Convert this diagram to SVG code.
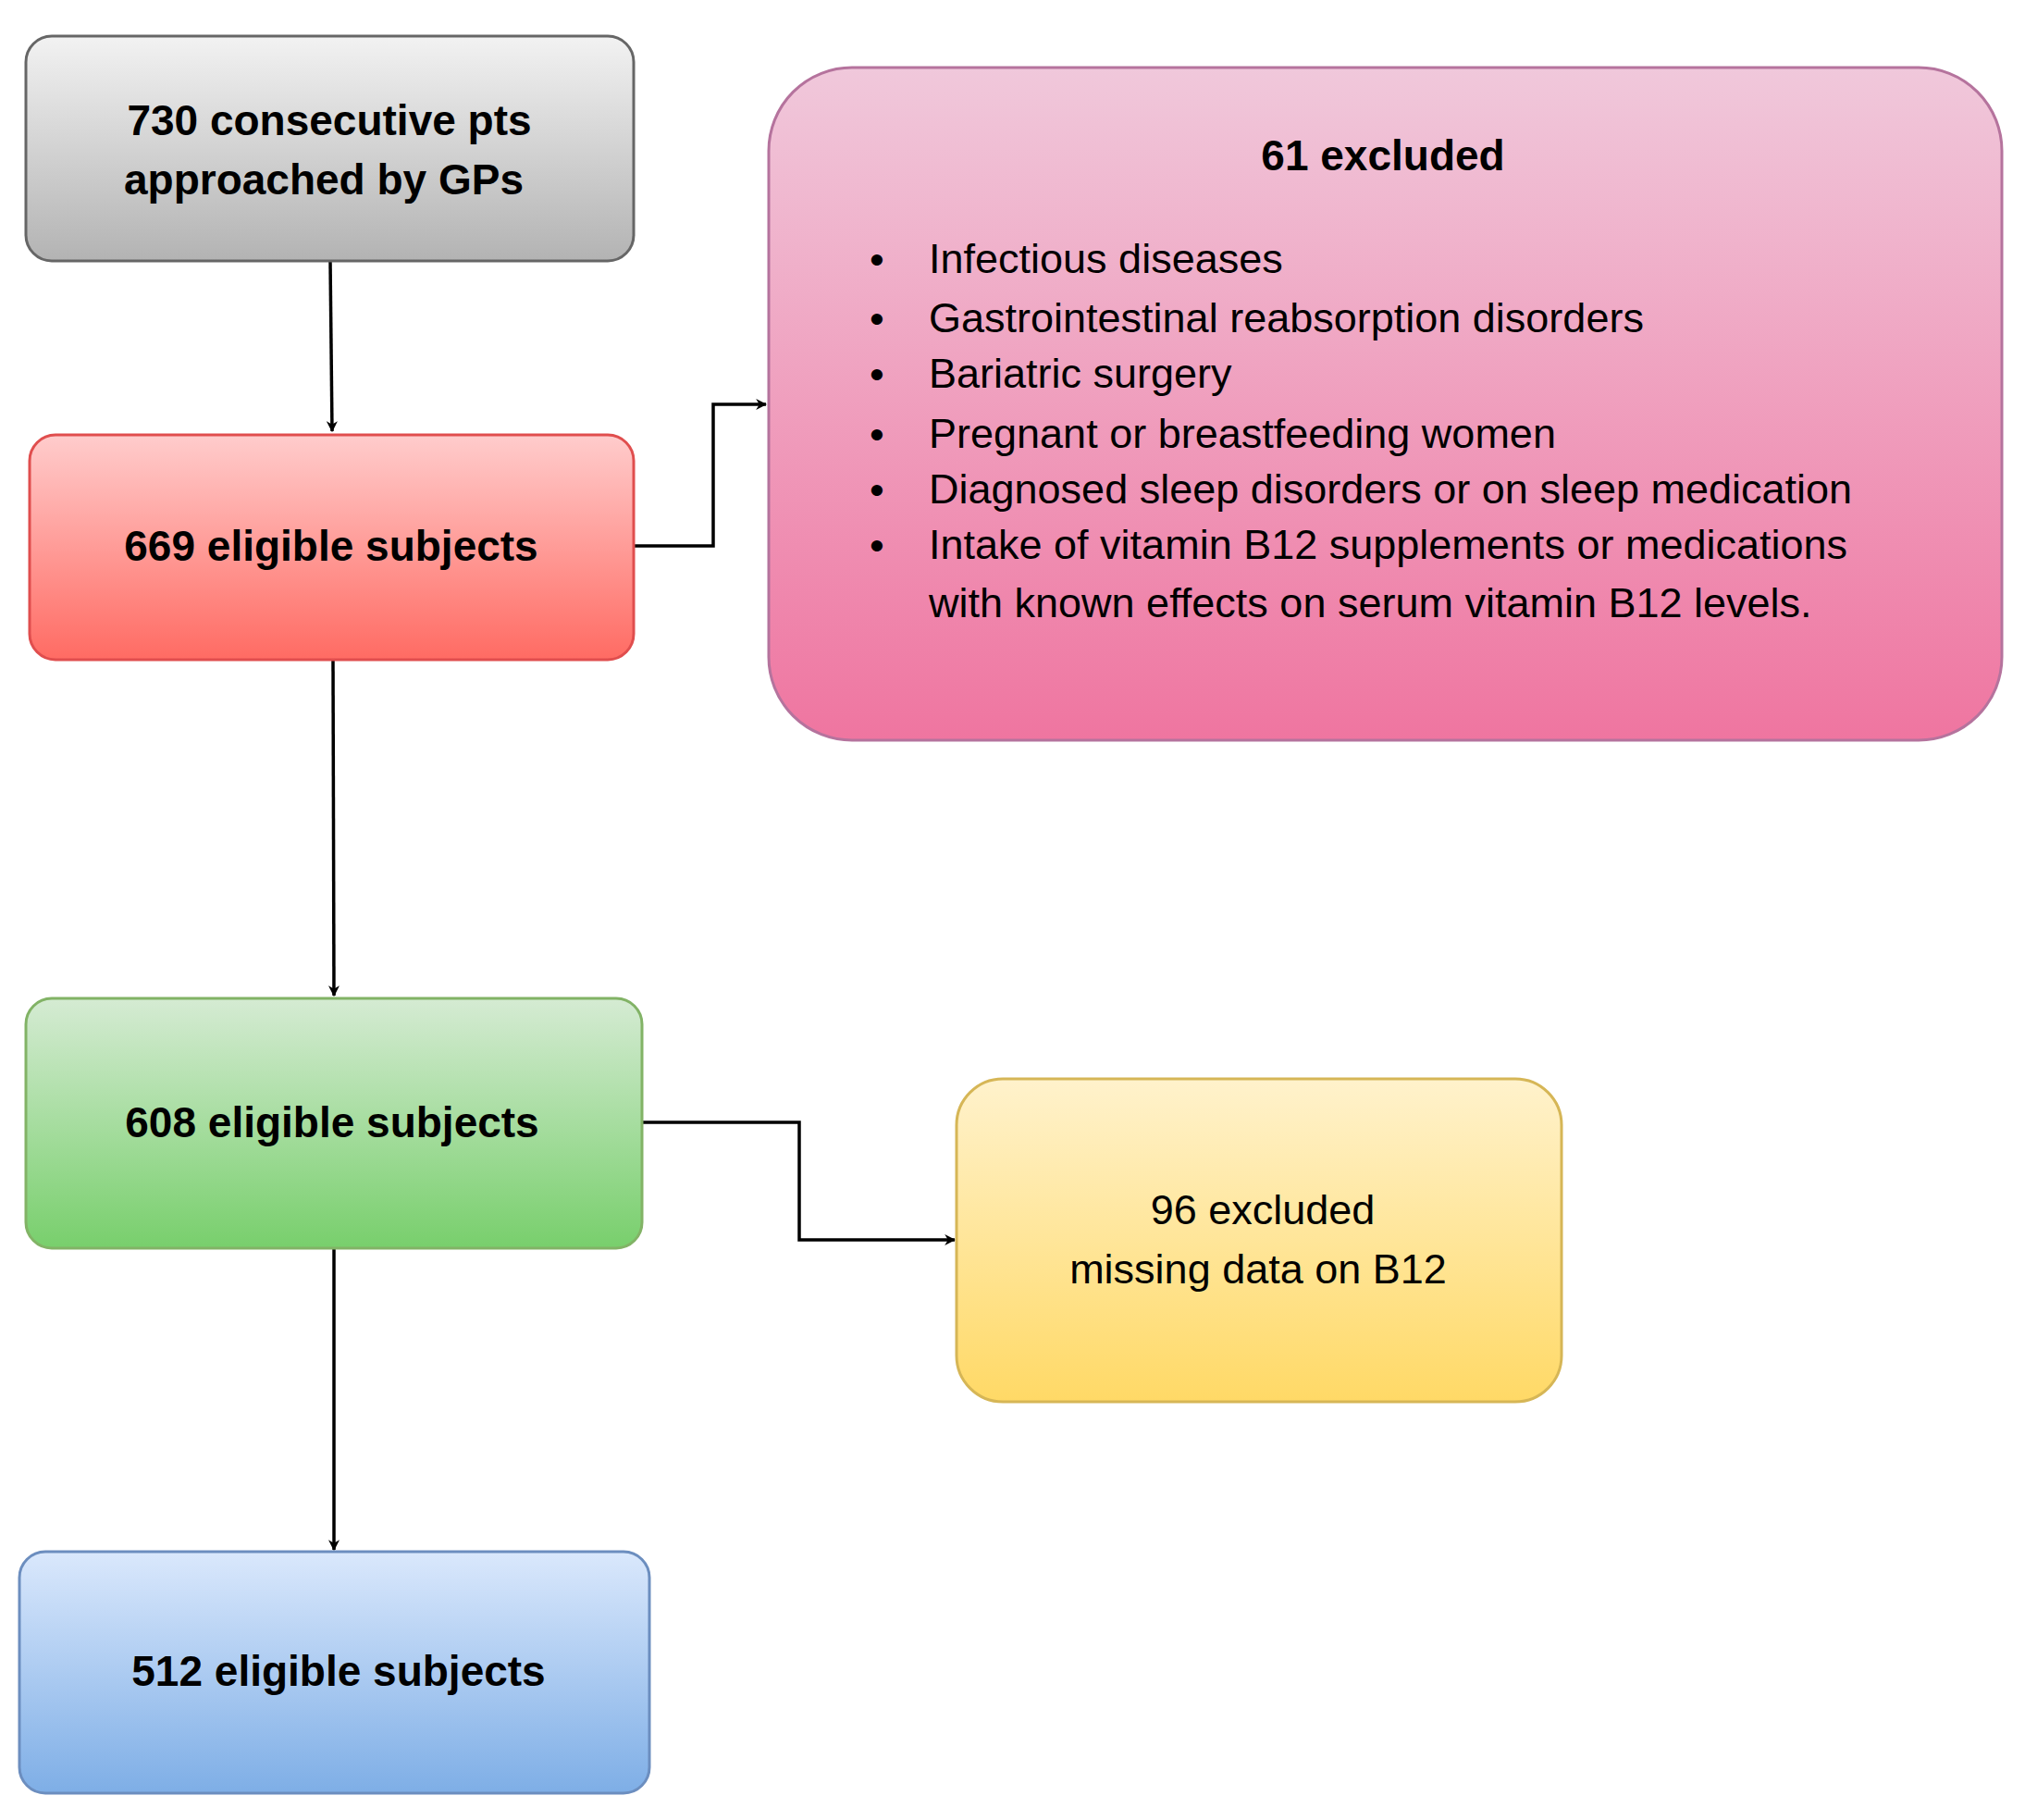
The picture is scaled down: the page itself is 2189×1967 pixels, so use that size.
<svg xmlns="http://www.w3.org/2000/svg" width="2189" height="1967" viewBox="0 0 2189 1967">
<style>
.b{font-family:"Liberation Sans",Arial,sans-serif;font-weight:bold;font-size:46px;fill:#000;text-anchor:middle}
.r{font-family:"Liberation Sans",Arial,sans-serif;font-size:45px;fill:#000}
.c{text-anchor:middle}
.e{fill:none;stroke:#000;stroke-width:3.5}
</style>
<defs>
<linearGradient id="g1" x1="0" y1="0" x2="0" y2="1"><stop offset="0" stop-color="#f2f2f2"/><stop offset="1" stop-color="#b3b3b3"/></linearGradient>
<linearGradient id="g2" x1="0" y1="0" x2="0" y2="1"><stop offset="0" stop-color="#ffcccc"/><stop offset="1" stop-color="#ff6b63"/></linearGradient>
<linearGradient id="g3" x1="0" y1="0" x2="0" y2="1"><stop offset="0" stop-color="#f0c8db"/><stop offset="1" stop-color="#ef75a0"/></linearGradient>
<linearGradient id="g4" x1="0" y1="0" x2="0" y2="1"><stop offset="0" stop-color="#d5ebd3"/><stop offset="1" stop-color="#78cf6c"/></linearGradient>
<linearGradient id="g5" x1="0" y1="0" x2="0" y2="1"><stop offset="0" stop-color="#fff2cc"/><stop offset="1" stop-color="#ffd966"/></linearGradient>
<linearGradient id="g6" x1="0" y1="0" x2="0" y2="1"><stop offset="0" stop-color="#dae8fc"/><stop offset="1" stop-color="#7eaee6"/></linearGradient>
<marker id="a" viewBox="0 0 20 20" refX="18" refY="10" markerWidth="12" markerHeight="12" markerUnits="userSpaceOnUse" orient="auto"><path d="M0,0 L20,10 L0,20 L6,10 Z" fill="#000"/></marker>
</defs>
<g id="connectors">
<path class="e" d="M357,282 L359,466" marker-end="url(#a)" style="marker-end:url(#a)"/>
<path class="e" d="M685,590 L771,590 L771,437 L828,437" style="marker-end:url(#a)"/>
<path class="e" d="M360,713 L361,1076" style="marker-end:url(#a)"/>
<path class="e" d="M694,1213 L864,1213 L864,1340 L1032,1340" style="marker-end:url(#a)"/>
<path class="e" d="M361,1349 L361,1675" style="marker-end:url(#a)"/>
</g>
<g id="n1"><rect x="28" y="39" width="657" height="243" rx="28" fill="url(#g1)" stroke="#666" stroke-width="3"/>
<text class="b" x="356" y="146">730 consecutive pts</text><text class="b" x="350" y="210">approached by GPs</text></g>
<g id="n2"><rect x="32" y="470" width="653" height="243" rx="28" fill="url(#g2)" stroke="#e04e4e" stroke-width="3"/>
<text class="b" x="358" y="606">669 eligible subjects</text></g>
<g id="n3"><rect x="831" y="73" width="1333" height="727" rx="90" fill="url(#g3)" stroke="#b5739d" stroke-width="3"/>
<text class="b" x="1495" y="184">61 excluded</text>
<g class="r">
<text x="940" y="296">•</text><text x="1004" y="295">Infectious diseases</text>
<text x="940" y="360">•</text><text x="1004" y="359">Gastrointestinal reabsorption disorders</text>
<text x="940" y="420">•</text><text x="1004" y="419">Bariatric surgery</text>
<text x="940" y="485">•</text><text x="1004" y="484">Pregnant or breastfeeding women</text>
<text x="940" y="545">•</text><text x="1004" y="544">Diagnosed sleep disorders or on sleep medication</text>
<text x="940" y="605">•</text><text x="1004" y="604">Intake of vitamin B12 supplements or medications</text>
<text x="1004" y="667">with known effects on serum vitamin B12 levels.</text>
</g></g>
<g id="n4"><rect x="28" y="1079" width="666" height="270" rx="28" fill="url(#g4)" stroke="#82b366" stroke-width="3"/>
<text class="b" x="359" y="1229">608 eligible subjects</text></g>
<g id="n5"><rect x="1034" y="1166" width="654" height="349" rx="50" fill="url(#g5)" stroke="#d6b656" stroke-width="3"/>
<text class="r c" x="1365" y="1323">96 excluded</text><text class="r c" x="1360" y="1387">missing data on B12</text></g>
<g id="n6"><rect x="21" y="1677" width="681" height="261" rx="28" fill="url(#g6)" stroke="#6c8ebf" stroke-width="3"/>
<text class="b" x="366" y="1822">512 eligible subjects</text></g>
</svg>
